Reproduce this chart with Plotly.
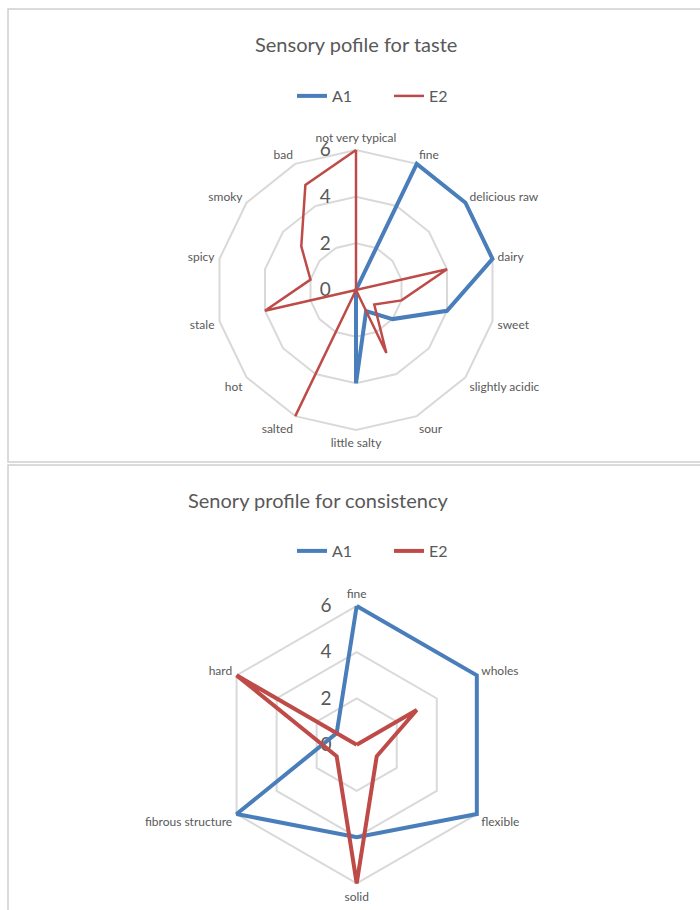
import plotly.graph_objects as go

# Taste profile data
taste_categories = ["not very typical", "fine", "delicious raw", "dairy", "sweet",
                    "slightly acidic", "sour", "little salty", "salted", "hot",
                    "stale", "spicy", "smoky", "bad"]
taste_a1 = [0, 6, 6, 6, 4, 2, 1, 4, 0, 0, 0, 0, 0, 0]
taste_e2 = [6, 0, 0, 4, 2, 1, 3, 0, 6, 0, 4, 2, 3, 5]

# Consistency profile data
cons_categories = ["fine", "wholes", "flexible", "solid", "fibrous structure", "hard"]
cons_a1 = [6, 6, 6, 4, 6, 1]
cons_e2 = [0, 3, 1, 6, 1, 6]

radial_ticks = [0, 2, 4, 6]
series_names = ["A1", "E2"]

BLUE = "#4A7EBB"
RED = "#BE4B48"
TEXT = "#595959"
GRID = "#D9D9D9"
FONT = "Lato, 'Open Sans', sans-serif"

W, H = 700, 910
R_MAX = 6.2  # a little headroom so thick lines at 6 are not clipped

def close(vals):
    return list(vals) + [vals[0]]


fig = go.Figure()

fig.add_trace(go.Scatterpolar(r=close(taste_a1), theta=close(taste_categories), mode="lines",
                              name=series_names[0], line=dict(color=BLUE, width=4),
                              subplot="polar", legend="legend"))
fig.add_trace(go.Scatterpolar(r=close(taste_e2), theta=close(taste_categories), mode="lines",
                              name=series_names[1], line=dict(color=RED, width=2.5),
                              subplot="polar", legend="legend"))
fig.add_trace(go.Scatterpolar(r=close(cons_a1), theta=close(cons_categories), mode="lines",
                              name=series_names[0], line=dict(color=BLUE, width=4),
                              subplot="polar2", legend="legend2"))
fig.add_trace(go.Scatterpolar(r=close(cons_e2), theta=close(cons_categories), mode="lines",
                              name=series_names[1], line=dict(color=RED, width=4),
                              subplot="polar2", legend="legend2"))


def polar_layout(cx, cy, rad6, cats):
    rad = rad6 * R_MAX / 6
    return dict(
        domain=dict(x=[(cx - rad) / W, (cx + rad) / W],
                    y=[1 - (cy + rad) / H, 1 - (cy - rad) / H]),
        gridshape="linear",
        bgcolor="white",
        # invisible outside ticks push the value labels off to the left of the axis
        radialaxis=dict(range=[0, R_MAX], tickvals=radial_ticks, angle=90, tickangle=90,
                        showline=False, ticks="outside", ticklen=18,
                        tickcolor="rgba(0,0,0,0)", gridcolor=GRID, gridwidth=1.5,
                        side="counterclockwise", layer="below traces",
                        tickfont=dict(size=19, color=TEXT, family=FONT)),
        angularaxis=dict(categoryarray=cats, categoryorder="array", direction="clockwise",
                         rotation=90, showgrid=False, showline=False, ticks="",
                         layer="below traces",
                         tickfont=dict(size=12, color=TEXT, family=FONT)),
    )


legend_common = dict(orientation="h", xanchor="center", yanchor="middle",
                     entrywidth=52, entrywidthmode="pixels",
                     font=dict(size=16, color=TEXT, family=FONT), bgcolor="rgba(0,0,0,0)")

fig.update_layout(
    width=W, height=H,
    margin=dict(l=0, r=0, t=0, b=0),
    paper_bgcolor="white",
    font=dict(family=FONT, color=TEXT),
    polar=polar_layout(356, 290, 140, taste_categories),
    polar2=polar_layout(356.7, 744.7, 138.7, cons_categories),
    legend=dict(legend_common, x=389 / W, y=1 - 96 / H),
    legend2=dict(legend_common, x=389 / W, y=1 - 551 / H),
    annotations=[
        dict(text="Sensory pofile for taste", x=356 / W, y=1 - 44 / H, xref="paper", yref="paper",
             xanchor="center", yanchor="middle", showarrow=False,
             font=dict(size=20, color=TEXT, family=FONT)),
        dict(text="Senory profile for consistency", x=318 / W, y=1 - 500 / H, xref="paper",
             yref="paper", xanchor="center", yanchor="middle", showarrow=False,
             font=dict(size=20, color=TEXT, family=FONT)),
    ],
    shapes=[
        dict(type="rect", xref="paper", yref="paper", x0=8 / W, x1=1.01, y0=1 - 462 / H,
             y1=1 - 9 / H, line=dict(color="#D0D0D0", width=1.5)),
        dict(type="rect", xref="paper", yref="paper", x0=8 / W, x1=1.01, y0=-0.01,
             y1=1 - 465 / H, line=dict(color="#D0D0D0", width=1.5)),
    ],
)

fig.write_html("out.html")
